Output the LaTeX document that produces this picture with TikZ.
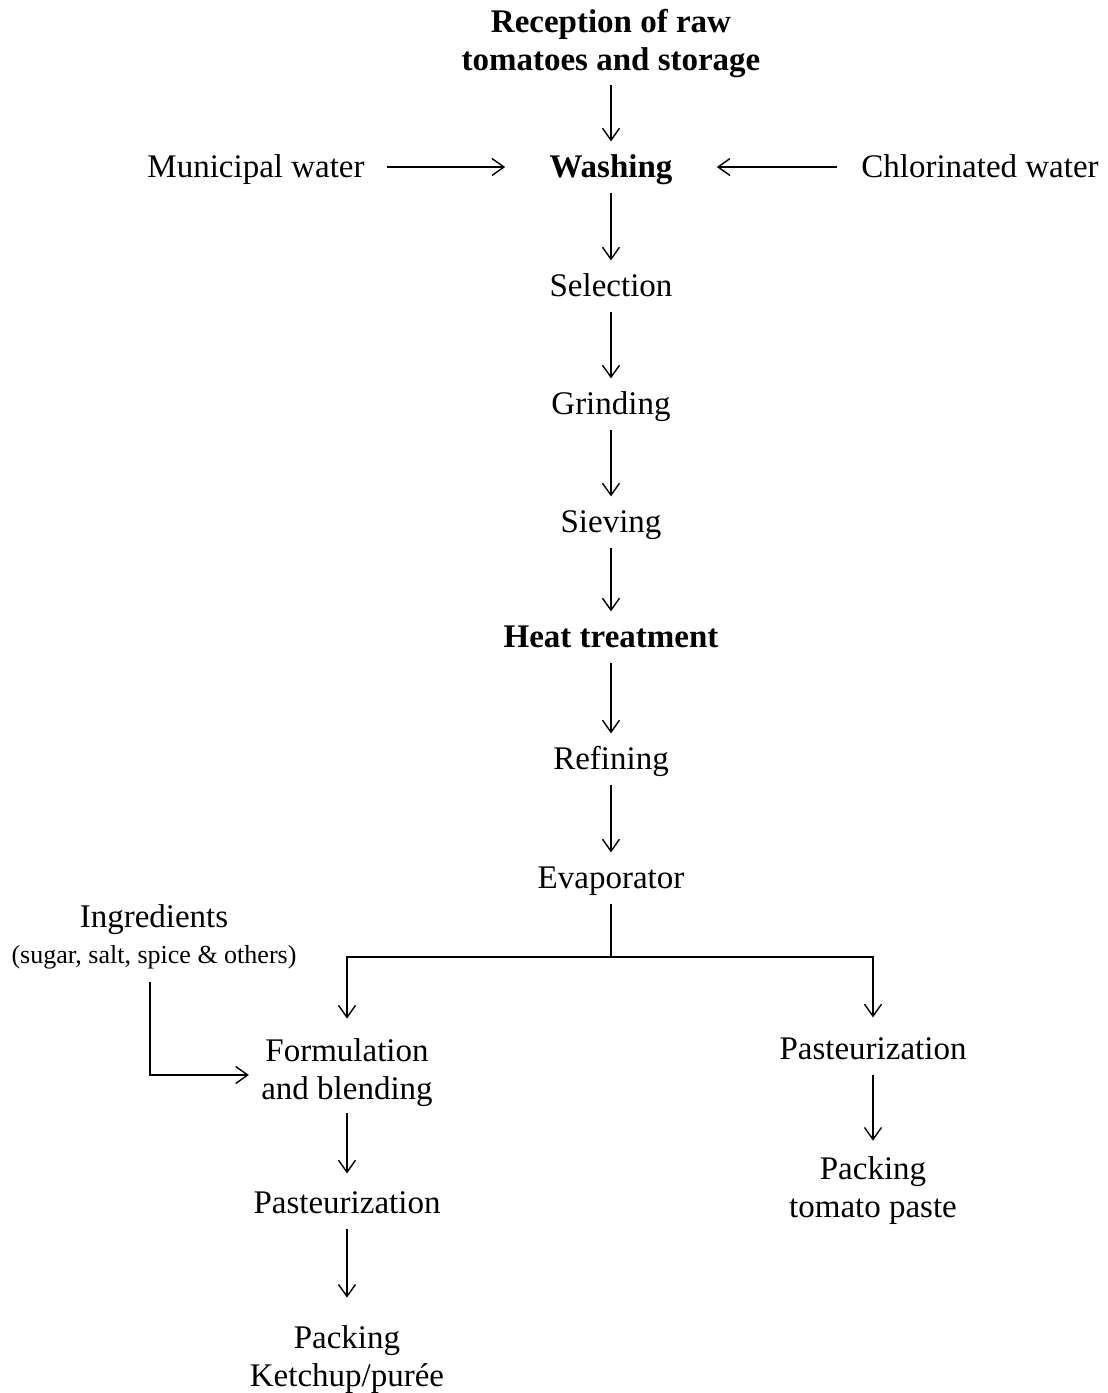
\documentclass[tikz,border=0pt]{standalone}
\usepackage{fontspec}
\setmainfont{Liberation Serif}
\usetikzlibrary{arrows.meta, calc}

\begin{document}
\begin{tikzpicture}[x=0.5pt, y=-0.5pt,
    every node/.style={font=\fontsize{16.5}{19}\selectfont},
    stage/.style={align=center, inner sep=6pt, text height=1.2em, text depth=0.12em},
    keystage/.style={stage, font=\fontsize{16.5}{19}\selectfont\bfseries},
    twostage/.style={align=center, inner sep=6pt},
    keytwostage/.style={twostage, font=\fontsize{16.5}{19}\selectfont\bfseries},
    arrow/.style={-{Straight Barb[length=6pt, width=8.5pt]}, line width=0.7pt},
    link/.style={line width=0.7pt}
]
    \useasboundingbox (0,0) rectangle (1108,1393);

    % Main line
    \node (reception) [keytwostage] at (611,44) {Reception of raw\\tomatoes and storage};
    \node (washing) [keystage] at (611,167) {Washing};
    \node (selection) [stage] at (611,286) {Selection};
    \node (grinding) [stage] at (611,404) {Grinding};
    \node (sieving) [stage] at (611,522) {Sieving};
    \node (heat) [keystage] at (611,637) {Heat treatment};
    \node (refining) [stage] at (611,759) {Refining};
    \node (evap) [stage] at (611,878) {Evaporator};

    % Water inputs
    \node (municipal) [stage] at (256,167) {Municipal water};
    \node (chlorine) [stage] at (980,167) {Chlorinated water};

    % Ketchup branch
    \node (ingred) [align=center, inner sep=6pt] at (154,937) {Ingredients\\[-1pt]{\fontsize{13}{15}\selectfont (sugar, salt, spice \& others)}};
    \node (formul) [twostage] at (347,1073) {Formulation\\and blending};
    \node (pastleft) [stage] at (347,1203) {Pasteurization};
    \node (packleft) [twostage] at (347,1360) {Packing\\Ketchup/purée};

    % Paste branch
    \node (pastright) [stage] at (873,1049) {Pasteurization};
    \node (packright) [twostage] at (873,1191) {Packing\\tomato paste};

    \coordinate (split) at (611,957);

    % Arrows
    \draw [arrow, shorten <=-3pt] (reception) -- (washing);
    \draw [arrow, shorten <=5pt, shorten >=16pt] (municipal) -- (washing);
    \draw [arrow, shorten <=6pt, shorten >=16pt] (chlorine) -- (washing);
    \draw [arrow] (washing) -- (selection);
    \draw [arrow] (selection) -- (grinding);
    \draw [arrow] (grinding) -- (sieving);
    \draw [arrow] (sieving) -- (heat);
    \draw [arrow] (heat) -- (refining);
    \draw [arrow] (refining) -- (evap);

    \draw [link] (evap) -- (split);
    \draw [arrow, shorten >=4pt] (split) -| (formul);
    \draw [arrow, shorten >=3pt] (split) -| (pastright);

    \draw [arrow] ([xshift=-2pt]ingred.south) |- ([yshift=-1pt]formul.west);
    \draw [arrow, shorten <=-3pt, shorten >=2pt] (formul) -- (pastleft);
    \draw [arrow, shorten >=8pt] (pastleft) -- (packleft);
    \draw [arrow, shorten >=2pt] (pastright) -- (packright);
\end{tikzpicture}
\end{document}
